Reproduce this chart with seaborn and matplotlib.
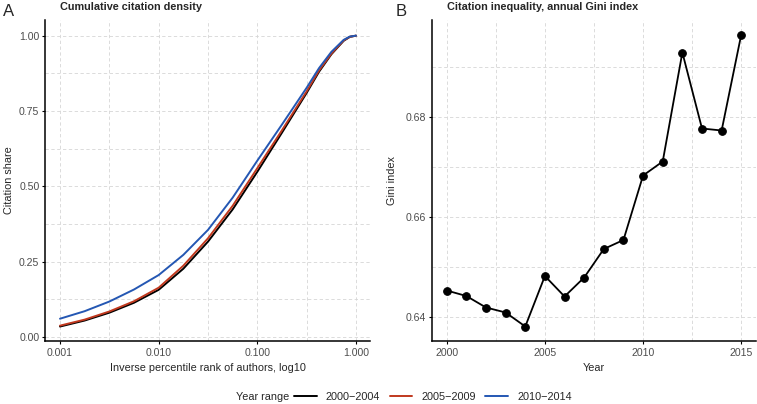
import numpy as np
import pandas as pd
import matplotlib
matplotlib.use("Agg")
import matplotlib.pyplot as plt
import seaborn as sns
from matplotlib.ticker import FixedLocator, FixedFormatter, NullFormatter
from matplotlib.lines import Line2D

# ---- Data ----
log_rank = [-3, -2.75, -2.5, -2.25, -2, -1.75, -1.5, -1.25, -1, -0.75, -0.5, -0.375,
            -0.25, -0.125, -0.0625, 0]
share_2000_2004 = [0.034, 0.054, 0.080, 0.113, 0.156, 0.226, 0.316, 0.423, 0.548, 0.678,
                   0.810, 0.880, 0.938, 0.983, 0.996, 1.0]
share_2005_2009 = [0.037, 0.057, 0.084, 0.118, 0.163, 0.236, 0.327, 0.435, 0.560, 0.686,
                   0.815, 0.884, 0.940, 0.984, 0.996, 1.0]
share_2010_2014 = [0.060, 0.085, 0.117, 0.157, 0.205, 0.272, 0.355, 0.462, 0.585, 0.705,
                   0.827, 0.892, 0.946, 0.986, 0.997, 1.0]
year_ranges = ["2000\u22122004", "2005\u22122009", "2010\u22122014"]
range_colors = ["#000000", "#C0381E", "#2457B3"]

years = list(range(2000, 2016))
gini = [0.6453, 0.6442, 0.6419, 0.6409, 0.6381, 0.6482, 0.6441, 0.6479,
        0.6536, 0.6554, 0.6683, 0.6711, 0.6929, 0.6777, 0.6773, 0.6965]

x_ticks_a = [0.001, 0.01, 0.1, 1.0]
x_labels_a = ["0.001", "0.010", "0.100", "1.000"]
y_ticks_a = [0.0, 0.25, 0.5, 0.75, 1.0]
y_labels_a = ["0.00", "0.25", "0.50", "0.75", "1.00"]
x_ticks_b = [2000, 2005, 2010, 2015]
y_ticks_b = [0.64, 0.66, 0.68]
y_labels_b = ["0.64", "0.66", "0.68"]

# ---- Build tidy frames ----
frames = []
for lab, vals in zip(year_ranges, [share_2000_2004, share_2005_2009, share_2010_2014]):
    frames.append(pd.DataFrame({"rank": np.power(10.0, log_rank), "share": vals, "range": lab}))
dfA = pd.concat(frames, ignore_index=True)
dfB = pd.DataFrame({"year": years, "gini": gini})

sns.set_theme(style="white")
plt.rcParams['font.family'] = ['Liberation Sans', 'DejaVu Sans']

W, H = 757, 404
fig = plt.figure(figsize=(W / 100, H / 100), dpi=100)
axA = fig.add_axes([45 / W, 63 / H, 325 / W, 321 / H])
axB = fig.add_axes([432 / W, 63 / H, 324 / W, 321 / H])

grid_kw = dict(linestyle=(0, (4, 3)), color="#d6d6d6", linewidth=0.6)
tick_col = "#4d4d4d"

# ---- Panel A ----
sns.lineplot(data=dfA, x="rank", y="share", hue="range", hue_order=year_ranges,
             palette=range_colors, linewidth=1.4, legend=False, ax=axA,
             estimator=None, sort=True)
axA.set_xscale("log")
axA.set_xlim(10 ** -3.152, 10 ** 0.142)
axA.set_ylim(-0.014, 1.052)
axA.xaxis.set_major_locator(FixedLocator(x_ticks_a))
axA.xaxis.set_major_formatter(FixedFormatter(x_labels_a))
axA.xaxis.set_minor_locator(FixedLocator([10 ** -2.5, 10 ** -1.5, 10 ** -0.5]))
axA.xaxis.set_minor_formatter(NullFormatter())
axA.yaxis.set_major_locator(FixedLocator(y_ticks_a))
axA.yaxis.set_major_formatter(FixedFormatter(y_labels_a))
axA.yaxis.set_minor_locator(FixedLocator([0.125, 0.375, 0.625, 0.875]))
axA.set_xlabel("Inverse percentile rank of authors, log10", fontsize=7.8)
axA.set_ylabel("Citation share", fontsize=7.8)
axA.xaxis.set_label_coords(0.5, -0.068)
axA.yaxis.set_label_coords(-0.096, 0.5)

# ---- Panel B ----
sns.lineplot(data=dfB, x="year", y="gini", color="black", linewidth=1.3,
             marker="o", markersize=5.5, markeredgecolor="black", ax=axB)
axB.set_xlim(1999.25, 2015.75)
axB.set_ylim(0.6352, 0.6994)
axB.xaxis.set_major_locator(FixedLocator(x_ticks_b))
axB.xaxis.set_major_formatter(FixedFormatter([str(y) for y in x_ticks_b]))
axB.xaxis.set_minor_locator(FixedLocator([2002.5, 2007.5, 2012.5]))
axB.yaxis.set_major_locator(FixedLocator(y_ticks_b))
axB.yaxis.set_major_formatter(FixedFormatter(y_labels_b))
axB.yaxis.set_minor_locator(FixedLocator([0.65, 0.67, 0.69]))
axB.set_xlabel("Year", fontsize=7.8)
axB.set_ylabel("Gini index", fontsize=7.8)
axB.xaxis.set_label_coords(0.5, -0.068)
axB.yaxis.set_label_coords(-0.108, 0.5)

for ax in (axA, axB):
    ax.grid(which="both", **grid_kw)
    ax.set_axisbelow(True)
    for s in ("top", "right"):
        ax.spines[s].set_visible(False)
    for s in ("left", "bottom"):
        ax.spines[s].set_color("black")
        ax.spines[s].set_linewidth(1.1)
    ax.tick_params(which="major", direction="out", length=2.5, width=0.8, color="black",
                   labelsize=7.6, labelcolor=tick_col, bottom=True, left=True)
    ax.tick_params(axis="x", which="major", pad=2.5)
    ax.tick_params(axis="y", which="major", pad=1.5)
    ax.tick_params(which="minor", length=0)

# ---- Titles & panel letters ----
fig.text(60 / W, 1 - 7 / H, "Cumulative citation density", fontsize=7.8, fontweight="bold",
         ha="left", va="center")
fig.text(447 / W, 1 - 7 / H, "Citation inequality, annual Gini index", fontsize=7.8,
         fontweight="bold", ha="left", va="center")
fig.text(3 / W, 1 - 11 / H, "A", fontsize=12, ha="left", va="center")
fig.text(396 / W, 1 - 11 / H, "B", fontsize=12, ha="left", va="center")

# ---- Legend ----
fig.text(236 / W, 1 - 397 / H, "Year range", fontsize=7.8, ha="left", va="center")
handles = [Line2D([0], [0], color=c, linewidth=1.4) for c in range_colors]
fig.legend(handles, year_ranges, ncol=3, loc="center left",
           bbox_to_anchor=(294 / W, 1 - 397 / H), frameon=False, fontsize=7.8,
           handlelength=2.1, handletextpad=0.85, columnspacing=0.85,
           borderpad=0, borderaxespad=0)

fig.savefig("out.png", dpi=100)
